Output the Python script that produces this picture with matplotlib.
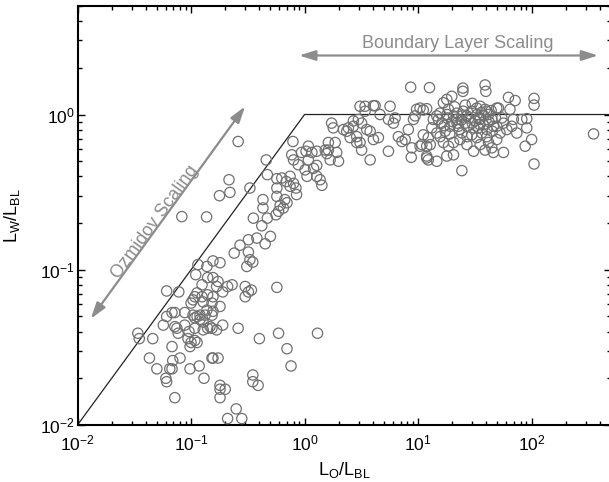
import numpy as np
import matplotlib
matplotlib.use('Agg')
import matplotlib.pyplot as plt

plt.rcParams['font.family'] = ['Liberation Sans', 'DejaVu Sans']
plt.rcParams['mathtext.fontset'] = 'custom'
plt.rcParams['mathtext.rm'] = 'Liberation Sans'
plt.rcParams['mathtext.it'] = 'Liberation Sans'
plt.rcParams['mathtext.default'] = 'regular'
plt.rcParams['axes.unicode_minus'] = False

# --- datos (L_O/L_BL, L_W/L_BL) ---
# grupo inferior izquierdo (regimen de Ozmidov)
pts_ozm = [
    (0.034, 0.039), (0.035, 0.036), (0.046, 0.036), (0.043, 0.027), (0.050, 0.023),
    (0.061, 0.073), (0.078, 0.072), (0.057, 0.044), (0.068, 0.053), (0.072, 0.053),
    (0.061, 0.050), (0.072, 0.043), (0.075, 0.042), (0.077, 0.039), (0.088, 0.044),
    (0.088, 0.053), (0.100, 0.061), (0.104, 0.064), (0.108, 0.067), (0.110, 0.093),
    (0.115, 0.108), (0.138, 0.105), (0.156, 0.114), (0.180, 0.111), (0.140, 0.089),
    (0.156, 0.089), (0.173, 0.084), (0.168, 0.078), (0.125, 0.080), (0.113, 0.071),
    (0.125, 0.067), (0.140, 0.069), (0.156, 0.067), (0.128, 0.062), (0.153, 0.061),
    (0.190, 0.072), (0.210, 0.078), (0.230, 0.080), (0.240, 0.128), (0.320, 0.130),
    (0.330, 0.116), (0.350, 0.112), (0.310, 0.105), (0.300, 0.078), (0.320, 0.072),
    (0.340, 0.074), (0.300, 0.067), (0.570, 0.077), (0.138, 0.055), (0.133, 0.051),
    (0.120, 0.051), (0.113, 0.050), (0.104, 0.051), (0.108, 0.049), (0.120, 0.048),
    (0.128, 0.046), (0.153, 0.051), (0.156, 0.054), (0.180, 0.058), (0.147, 0.043),
    (0.153, 0.042), (0.140, 0.042), (0.168, 0.041), (0.190, 0.044), (0.108, 0.042),
    (0.094, 0.036), (0.100, 0.034), (0.108, 0.035), (0.113, 0.034), (0.098, 0.032),
    (0.068, 0.032), (0.069, 0.026), (0.080, 0.027), (0.068, 0.023), (0.065, 0.023),
    (0.060, 0.020), (0.061, 0.019), (0.072, 0.015), (0.098, 0.023), (0.118, 0.024),
    (0.130, 0.020), (0.153, 0.027), (0.156, 0.027), (0.173, 0.027), (0.180, 0.018),
    (0.180, 0.017), (0.180, 0.015), (0.200, 0.017), (0.260, 0.042), (0.350, 0.021),
    (0.350, 0.019), (0.390, 0.018), (0.400, 0.036), (0.590, 0.039), (0.700, 0.031),
    (0.760, 0.024), (1.300, 0.039), (0.250, 0.0127), (0.280, 0.011), (0.210, 0.011),
    (0.096, 0.040), (0.128, 0.041),
]

# grupo de transicion
pts_mid = [
    (0.26, 0.67), (0.216, 0.38), (0.178, 0.30), (0.22, 0.315), (0.137, 0.219),
    (0.083, 0.22), (0.46, 0.51), (0.47, 0.41), (0.33, 0.336), (0.43, 0.283),
    (0.43, 0.25), (0.354, 0.215), (0.42, 0.192), (0.47, 0.215), (0.50, 0.164),
    (0.45, 0.147), (0.38, 0.16), (0.32, 0.156), (0.27, 0.144),
    (0.57, 0.386), (0.63, 0.39), (0.69, 0.37), (0.745, 0.40), (0.80, 0.36),
    (0.84, 0.336), (0.745, 0.345), (0.85, 0.305), (0.57, 0.336), (0.57, 0.297),
    (0.61, 0.26), (0.65, 0.25), (0.70, 0.27), (0.59, 0.238), (0.56, 0.226),
    (0.67, 0.283), (0.79, 0.67), (0.77, 0.55), (0.80, 0.51), (0.88, 0.475),
    (0.94, 0.57), (1.03, 0.58), (1.08, 0.625), (1.16, 0.57), (1.28, 0.58),
    (1.08, 0.51), (1.01, 0.44), (1.05, 0.40), (1.2, 0.45), (1.28, 0.47),
    (1.28, 0.40), (1.37, 0.38), (1.42, 0.35), (1.52, 0.59), (1.62, 0.59),
    (1.57, 0.56), (1.62, 0.66), (1.86, 0.66), (1.68, 0.51), (1.92, 0.57),
    (1.99, 0.50), (1.73, 0.88), (1.79, 0.82), (2.2, 0.80), (2.35, 0.78),
    (2.43, 0.82), (2.69, 0.91), (2.98, 0.93), (3.18, 0.88), (2.69, 0.84),
    (2.88, 0.66), (3.08, 0.66), (3.18, 0.59), (3.78, 0.51), (3.08, 1.13),
    (3.41, 1.13), (4.04, 1.14), (3.41, 1.05), (2.52, 0.71), (2.88, 0.72),
    (3.53, 0.80), (3.78, 0.78), (4.04, 0.69),
]

# grupo de capa limite
pts_bl = [
    (8.6, 1.50), (12.6, 1.49), (24.8, 1.48), (24.8, 1.41), (38.9, 1.55),
    (39.5, 1.41), (62.5, 1.29), (71.6, 1.23), (105, 1.27), (105, 1.15),
    (351, 0.75), (105, 0.48), (24.3, 0.435), (87.7, 0.625), (100, 0.69),
    (90.6, 0.82), (90.6, 0.94), (81.9, 0.93), (69, 0.93), (64.5, 1.08),
    (51, 1.10), (5.48, 0.58), (8.7, 0.53), (11.9, 0.525), (12.3, 0.51),
    (14.6, 0.50), (17.9, 0.54), (20.5, 0.55), (4.18, 1.14), (5.66, 1.13),
    (4.62, 1.0), (5.48, 0.93), (6.27, 0.95), (6.06, 0.88), (4.47, 0.71),
    (6.7, 0.72), (7.2, 0.67), (7.7, 0.69), (8.2, 0.80), (9.7, 1.08),
    (10.4, 1.10), (11.1, 1.07), (11.9, 1.09), (9.4, 0.98), (9.1, 0.93),
    (11.1, 0.74), (10.8, 0.64), (11.9, 0.625), (12.8, 0.64), (13.2, 0.82),
    (14.6, 0.76), (15.1, 0.93), (15.6, 1.02), (16.7, 1.19), (17.9, 1.25),
    (19.8, 1.31), (18.5, 1.08), (20.5, 0.98), (21.9, 0.93), (19.1, 0.84),
    (17.3, 0.78), (15.6, 0.72), (16.7, 0.66), (18.5, 0.625), (20.5, 0.66),
    (23.4, 0.69), (24.3, 0.76), (22.6, 0.84), (26, 0.88), (26.9, 0.98),
    (29.7, 1.05), (32.9, 1.10), (35.2, 1.13), (38.9, 1.08), (41.7, 1.0),
    (44.6, 0.93), (46.1, 0.84), (40.3, 0.80), (36.4, 0.76), (32.9, 0.71),
    (35.2, 0.64), (38.9, 0.59), (44.6, 0.61), (49.3, 0.69), (52.7, 0.76),
    (56.5, 0.88), (60.4, 0.80), (56.5, 0.57), (30.8, 0.58), (26.9, 0.64),
    (29.7, 0.74), (13.6, 0.93), (14.6, 0.98), (16.2, 0.88), (17.9, 0.95),
    (21.9, 1.02), (24.3, 0.98), (26.9, 0.84), (31.8, 0.91), (35.2, 0.93),
    (37.6, 0.86), (33.9, 0.82), (40.3, 0.72), (49.3, 0.84), (8.8, 0.61),
    (10.4, 0.625), (11.9, 0.54), (12.3, 0.71), (49.3, 1.10), (54.6, 0.95),
    (66.8, 0.84), (74, 0.76), (46.1, 0.57), (41.7, 0.66),
    (20, 0.90), (22, 0.88), (18, 1.00), (25, 1.05), (28, 0.95),
    (30, 0.88), (33, 1.00), (36, 1.03), (24, 0.92), (19, 0.75),
    (23, 0.80), (27, 0.72), (31, 0.82), (34, 0.95), (38, 0.98),
    (42, 0.90), (45, 0.78), (48, 0.95), (17, 0.85), (21, 1.12),
    (26, 1.15), (30, 1.18), (35, 0.86), (40, 1.05), (44, 1.06),
]

# escalas teoricas: Ozmidov (L_W = L_O) y capa limite (L_W = L_BL)
escala_x = [1e-2, 1.0, 5e2]
escala_y = [1e-2, 1.0, 1.0]

pts = np.array(pts_ozm + pts_mid + pts_bl)
gris = '#8c8c8c'

fig = plt.figure(figsize=(6.09, 4.82), dpi=100)
ax = fig.add_axes([77.5/609, 57/482, 533.5/609, 419/482])

ax.plot(escala_x, escala_y, color='#222222', lw=0.9, zorder=2)
ax.scatter(pts[:, 0], pts[:, 1], s=55, facecolors='none', edgecolors='#707070',
           linewidths=0.9, zorder=3)

ax.set_xscale('log')
ax.set_yscale('log')
ax.set_xlim(1e-2, 5e2)
ax.set_ylim(1e-2, 5)

flecha = dict(arrowstyle='<|-|>,head_length=0.7,head_width=0.22', color=gris,
              lw=1.6, shrinkA=0, shrinkB=0, mutation_scale=14)
ax.annotate('', xy=(0.299, 1.126), xytext=(0.0131, 0.0483), arrowprops=flecha)
ax.text(0.048, 0.204, 'Ozmidov Scaling', rotation=54, color=gris, fontsize=13,
        ha='center', va='center', rotation_mode='anchor')
ax.annotate('', xy=(385, 2.40), xytext=(0.895, 2.40), arrowprops=flecha)
ax.text(22.5, 2.87, 'Boundary Layer Scaling', color=gris, fontsize=13,
        ha='center', va='center')

ax.tick_params(which='both', direction='in', top=True, right=True, width=1,
               labelsize=12.5)
ax.tick_params(which='major', length=5)
ax.tick_params(which='minor', length=3)
ax.tick_params(axis='y', pad=2)
ax.tick_params(axis='x', pad=6)
for s in ax.spines.values():
    s.set_linewidth(1.5)

ax.set_xlabel('$L_O/L_{BL}$', fontsize=13)
ax.set_ylabel('$L_W/L_{BL}$', fontsize=13)
ax.xaxis.set_label_coords(0.5, -0.083)
ax.yaxis.set_label_coords(-0.104, 0.5)

fig.savefig('out.png', dpi=100)
